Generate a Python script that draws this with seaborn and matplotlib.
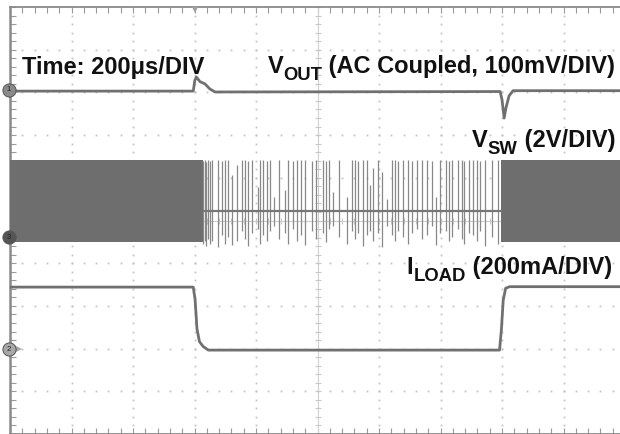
import matplotlib
matplotlib.use("Agg")
import matplotlib.pyplot as plt
import numpy as np
import pandas as pd
import seaborn as sns

# ---------------- data ----------------
# time in microseconds (200 us/DIV, 10 DIV on screen)
vout_t = [0, 596, 601, 606, 618, 634, 650, 667, 1594, 1600, 1607, 1613, 1623, 1636, 2000]
vout_mv = [-3, -3, 22, 30, 19, 14, 2, -5, -4, -23, -66, -42, -14, -2, -2]

iload_t = [0, 596, 602, 608, 616, 628, 645, 1592, 1598, 1604, 1612, 1625, 2000]
iload_ma = [290, 290, 230, 95, 35, 12, -5, -5, 90, 230, 285, 292, 292]

# continuous-switching windows of the switch node (start, end) in us
vsw_dense = [(0, 628), (1596, 2000)]
vsw_high = 3.6      # V, top of switching band
vsw_low = -0.25     # V, bottom of switching band
vsw_idle = 1.22     # V, switch node level during pulse skipping

# pulse-skipping pulses: time (us), peak (V), trough (V)
pulse_t = [629, 634, 639, 644, 649, 656, 677, 688, 699, 710,
           721, 737, 753, 764, 775, 786, 807, 813, 824, 835,
           846, 859, 876, 894, 905, 921, 932, 945, 959, 981,
           995, 1017, 1028, 1038, 1051, 1071, 1095, 1113, 1122, 1131,
           1149, 1160, 1171, 1181, 1196, 1211, 1225, 1241, 1252, 1261,
           1279, 1295, 1306, 1323, 1341, 1355, 1371, 1384, 1398, 1417,
           1428, 1438, 1456, 1469, 1477, 1493, 1507, 1518, 1528, 1545,
           1566, 1586]
pulse_peak = [3.55, 3.6, 3.5, 3.6, 3.55, 3.6, 3.6, 3.55, 3.6, 3.6,
              2.9, 3.4, 3.6, 3.6, 3.55, 3.6, 2.35, 3.6, 3.6, 3.55,
              3.6, 1.9, 3.6, 2.2, 3.6, 3.55, 3.6, 3.6, 3.6, 3.55,
              3.6, 3.6, 3.55, 3.6, 2.1, 3.6, 1.9, 3.6, 3.6, 3.55,
              3.6, 3.6, 2.45, 3.25, 3.6, 3.05, 1.8, 3.6, 3.6, 3.55,
              3.6, 3.6, 3.55, 3.6, 3.6, 3.6, 3.55, 1.9, 3.6, 3.6,
              3.55, 3.6, 3.6, 3.6, 3.55, 3.6, 3.6, 3.6, 3.55, 3.6,
              3.6, 3.6]
pulse_trough = [-0.3, -0.2, -0.4, -0.1, -0.3, -0.2, -0.45, 0.1, -0.3, 0.0,
                -0.35, -0.2, 0.3, -0.1, -0.4, 0.2, 0.4, -0.3, 0.1, -0.2,
                0.3, 0.5, -0.1, 0.2, -0.3, 0.4, -0.2, 0.1, -0.35, 0.3,
                -0.1, 0.2, -0.25, 0.4, 0.5, 0.0, -0.3, 0.3, -0.1, 0.2,
                -0.4, 0.1, 0.3, -0.2, 0.2, -0.45, 0.5, 0.1, -0.2, 0.3,
                0.0, -0.3, 0.2, 0.4, -0.1, 0.1, 0.5, -0.35, 0.2, 0.3,
                -0.2, 0.0, 0.4, -0.1, -0.3, 0.2, 0.1, -0.2, 0.3, -0.4,
                0.0, -0.3]

# channel settings: screen position of ground marker (DIV) and scale per DIV
ch1_pos, ch1_scale = 8.06, 100.0   # VOUT, mV/DIV
ch3_pos, ch3_scale = 4.61, 2.0     # VSW, V/DIV
ch2_pos, ch2_scale = 1.99, 200.0   # ILOAD, mA/DIV

# ---------------- figure ----------------
sns.set_theme(style="white")
plt.rcParams["font.family"] = ["Liberation Sans", "DejaVu Sans"]

W, H = 620, 434
fig = plt.figure(figsize=(W / 100, H / 100), dpi=100)
fig.patch.set_facecolor("white")
ax = fig.add_axes([10 / W, 0, 615 / W, 427 / H])
ax.set_facecolor("white")
ax.set_xlim(0, 2000)
ax.set_ylim(0, 10)

GRID = "#c4c4c4"
# dotted graticule
xs_dots = np.arange(0, 2001, 40)
ys_dots = np.arange(0, 10.01, 0.2)
for k in range(1, 10):
    if k == 5:
        continue
    ax.plot(xs_dots, np.full_like(xs_dots, k, dtype=float), ls="none", marker="s",
            ms=1.3, mew=0, color=GRID, zorder=1)
    ax.plot(np.full_like(ys_dots, k * 200), ys_dots, ls="none", marker="s",
            ms=1.3, mew=0, color=GRID, zorder=1)
# centre cross-hair with ticks
ax.axhline(5, color="#cfcfcf", lw=0.8, zorder=1)
ax.axvline(1000, color="#cfcfcf", lw=0.8, zorder=1)
ax.plot(xs_dots, np.full_like(xs_dots, 5, dtype=float), ls="none", marker="|",
        ms=5, mew=0.8, color="#c8c8c8", zorder=1)
ax.plot(np.full_like(ys_dots, 1000), ys_dots, ls="none", marker="_",
        ms=5, mew=0.8, color="#c8c8c8", zorder=1)

# border ticks
ax.set_xticks(np.arange(0, 2001, 40))
ax.set_yticks(np.arange(0, 10.01, 0.2))
ax.tick_params(axis="both", which="both", direction="in", length=4, width=0.8,
               color="#9a9a9a", labelbottom=False, labelleft=False,
               top=True, bottom=True, left=True, right=False)
for side, sp in ax.spines.items():
    sp.set_color("#8a8a8a")
    sp.set_linewidth(1.8 if side == "left" else 1.3)
    sp.set_visible(True)

# ---- VSW (channel 3) ----
DENSE = "#6e6e6e"
for (t0, t1) in vsw_dense:
    ax.fill_between([t0, t1], ch3_pos + vsw_low / ch3_scale, ch3_pos + vsw_high / ch3_scale,
                    color=DENSE, lw=0, zorder=3)
ax.vlines(pulse_t, [ch3_pos + v / ch3_scale for v in pulse_trough],
          [ch3_pos + v / ch3_scale for v in pulse_peak],
          color="#888888", lw=0.9, zorder=3)
idle_df = pd.DataFrame({"t": [vsw_dense[0][1], vsw_dense[1][0]],
                        "y": [ch3_pos + vsw_idle / ch3_scale] * 2})
sns.lineplot(data=idle_df, x="t", y="y", ax=ax, color="#777777", lw=1.6, zorder=4)

# ---- VOUT (channel 1) ----
vout_df = pd.DataFrame({"t": vout_t, "y": [ch1_pos + v / ch1_scale for v in vout_mv]})
sns.lineplot(data=vout_df, x="t", y="y", ax=ax, color="#707070", lw=2.0, zorder=4)

# ---- ILOAD (channel 2) ----
iload_df = pd.DataFrame({"t": iload_t, "y": [ch2_pos + v / ch2_scale for v in iload_ma]})
sns.lineplot(data=iload_df, x="t", y="y", ax=ax, color="#707070", lw=2.0, zorder=4)

ax.set_xlabel("")
ax.set_ylabel("")

# channel ground markers
def ch_marker(level, label, face, arrow=False):
    x0 = -3
    if arrow:
        ax.plot([26], [level], marker=">", ms=5.5, color=face, clip_on=False, zorder=6, mew=0)
    ax.plot([x0], [level], marker="o", ms=9.5, mfc=face, mec="#555555", mew=0.7,
            clip_on=False, zorder=7)
    ax.text(x0, level, label, fontsize=5.5, color="#222222", ha="center", va="center",
            clip_on=False, zorder=8)

ch_marker(ch1_pos, "1", "#8a8a8a")
ch_marker(ch3_pos, "3", "#555555")
ch_marker(ch2_pos, "2", "#a8a8a8", arrow=True)

# trigger position marker
ax.plot([600], [9.93], marker="v", ms=5, color="#a0a0a0", mew=0, clip_on=False, zorder=6)

# ---- annotations (built piecewise so subscripts match the scope print) ----
FS = 17
FS_SUB = 13.3
renderer = fig.canvas.get_renderer()


def label(parts, x, y_base, ha="left"):
    """parts: list of (text, fontsize, baseline shift in px downward)."""
    widths = []
    for s, fs, dy in parts:
        t = fig.text(0, 0, s, fontsize=fs, fontweight="bold")
        widths.append(t.get_window_extent(renderer).width)
        t.remove()
    cx = x - sum(widths) if ha == "right" else x
    for (s, fs, dy), w in zip(parts, widths):
        fig.text(cx / W, 1 - (y_base + dy) / H, s, fontsize=fs, fontweight="bold",
                 ha="left", va="baseline", color="#111111")
        cx += w


label([("Time: 200μs/DIV", FS, 0)], 22, 74)
label([("V", FS, 0), ("OUT", FS_SUB, 7), (" (AC Coupled, 100mV/DIV)", FS, 0)], 615, 73, "right")
label([("V", FS, 0), ("SW", FS_SUB, 7), (" (2V/DIV)", FS, 0)], 615, 147, "right")
label([("I", FS, 0), ("LOAD", FS_SUB, 7), (" (200mA/DIV)", FS, 0)], 612, 274, "right")

fig.savefig("out.png", dpi=100, facecolor="white")
